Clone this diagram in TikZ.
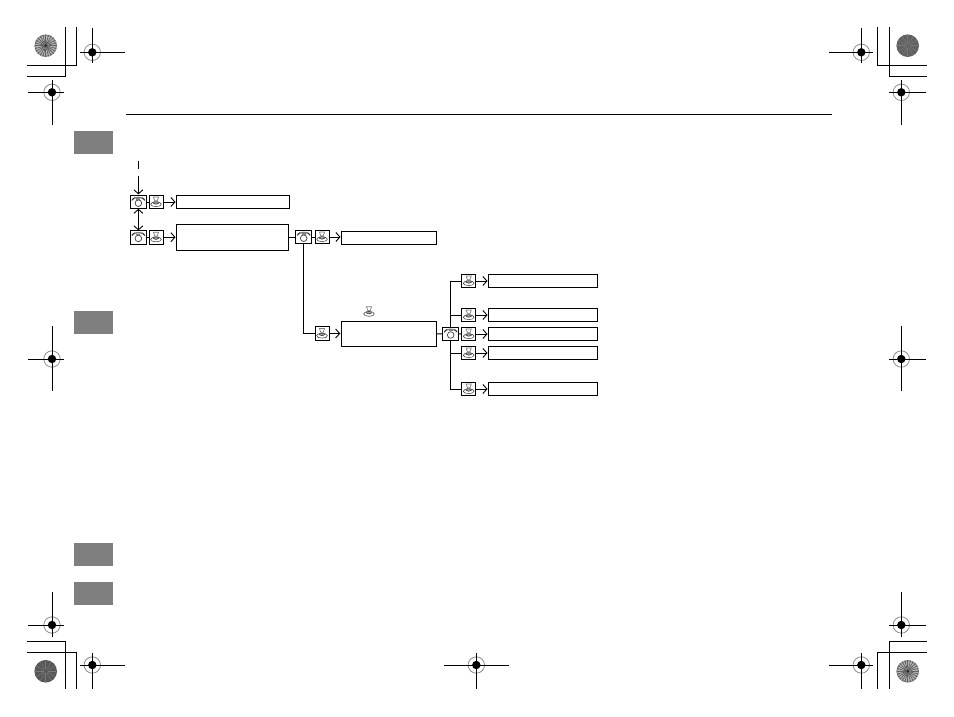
\documentclass[tikz,border=0pt]{standalone}
\usetikzlibrary{arrows.meta, positioning}
\definecolor{ink}{HTML}{000000}
\definecolor{tab}{HTML}{7F7F7F}
\definecolor{ringgray}{HTML}{8C8C8C}
\definecolor{glyph}{HTML}{808080}
\newcommand{\phoneglyph}{%
  \draw[glyph, line width=1.4pt] (-6.4,-2.2) .. controls (-4,-5.4) and (4,-5.4) .. (6.4,-2.2);
  \draw[ink, line width=0.4pt] (-4,-4.4) -- (-6.6,-1.4) (4,-4.4) -- (6.6,-1.4);
  \draw[ink!75, line width=0.7pt] (0,1.2) circle (3.3);
  \fill[glyph] (-2,-3.6) rectangle (2,-2.4);
}
\newcommand{\talkglyph}{%
  \draw[glyph, line width=0.7pt] (-2.6,-5) -- (2.6,-5) -- (1.2,-1.2) -- (-1.2,-1.2) -- cycle;
  \fill[glyph!70] (0,0.4) ellipse (3.2 and 1.6);
  \draw[ink!80, line width=0.5pt] (0,2.2) ellipse (5.4 and 2.4);
  \draw[ink!80, line width=0.6pt] (-3,1) .. controls (-1.5,2.7) and (1.5,2.7) .. (3,1);
}
\tikzset{
  flowbox/.style={draw=ink, line width=1pt, fill=white, inner sep=0pt, outer sep=0pt},
  iconbox/.style={flowbox, minimum width=14pt, minimum height=13.6pt},
  phonebox/.style={iconbox, minimum width=16.4pt, path picture={
    \begin{scope}[shift={(path picture bounding box.center)}]\phoneglyph\end{scope}}},
  talkbox/.style={iconbox, path picture={
    \begin{scope}[shift={(path picture bounding box.center)}]\talkglyph\end{scope}}},
  talkfree/.style={talkbox, draw=none, fill=none},
  sidetab/.style={fill=tab, inner sep=0pt, outer sep=0pt, minimum width=39.5pt, minimum height=23pt},
  arrow/.style={-{Straight Barb[length=4pt, width=9pt]}, draw=ink, line width=0.9pt, shorten >=0.8pt},
  both/.style={{Straight Barb[length=4pt, width=9pt]}-{Straight Barb[length=4pt, width=9pt]}, draw=ink, line width=0.9pt},
  link/.style={draw=ink, line width=0.9pt},
  crop/.style={draw=ink, line width=0.9pt}
}

\begin{document}
\begin{tikzpicture}[x=1pt,y=-1pt]
\useasboundingbox (0,0) rectangle (954,717);

% Page rule and side tabs
\draw[link] (126,114) -- (832,114);
\node[sidetab] (tabA) at (93.5,142.5) {};
\node[sidetab] (tabB) at (93.5,322.5) {};
\node[sidetab] (tabC) at (93.5,554.5) {};
\node[sidetab] (tabD) at (93.5,593) {};

% Crop lines
\draw[crop] (27,65.3) -- (76.3,65.3) -- (76.3,27);
\draw[crop] (27,76.3) -- (65.3,76.3) -- (65.3,27);
\draw[crop] (927,65.3) -- (877.3,65.3) -- (877.3,27);
\draw[crop] (927,76.3) -- (889.3,76.3) -- (889.3,27);
\draw[crop] (27,641.3) -- (65.3,641.3) -- (65.3,689);
\draw[crop] (27,652.3) -- (76.3,652.3) -- (76.3,689);
\draw[crop] (927,641.3) -- (889.3,641.3) -- (889.3,689);
\draw[crop] (927,652.3) -- (877.3,652.3) -- (877.3,689);

% Register marks
\foreach \cx/\cy/\xa/\xb/\ya/\yb in {
  92.3/52.3/80/124.7/28/63, 52/92.3/28/63.7/80/124.7,
  861.3/52.3/829/872.7/28/63, 901.3/92.3/889/926/80/124.7,
  52/359/28/63.7/326/391, 901.3/359/889/926/326/391,
  52/625/28/63.7/592/637, 901.3/625/889/926/592/637,
  92.3/665/80/124.7/653/689, 476.3/665/444/508.7/653/689, 861.3/665/829/872.7/653/689}{
  \draw[ringgray, line width=0.8pt] (\cx,\cy) circle (8.2);
  \fill[ink] (\cx,\cy) circle (4.2);
  \draw[crop] (\xa,\cy) -- (\xb,\cy) (\cx,\ya) -- (\cx,\yb);
}

% Colour discs, fine rays
\foreach \cx/\cy in {45.7/45.7, 907.7/671.3}{
  \fill[black!50] (\cx,\cy) circle (11.3);
  \fill[black!25] (\cx,\cy) circle (9.5);
  \foreach \a in {0,15,...,345}{
    \draw[black!62, line width=0.8pt] (\cx,\cy) ++(\a:3) -- ++(\a:8);
    \draw[white!70!black, line width=0.6pt] (\cx,\cy) ++(\a+7.5:7) -- ++(\a+7.5:4);
  }
  \fill[black!60] (\cx,\cy) circle (3);
  \fill[black!90] (\cx,\cy) circle (1.2);
}
% Colour discs, solid tone
\foreach \cx/\cy/\tone in {907.7/45.7/62, 45.7/671.3/66}{
  \fill[black!\tone] (\cx,\cy) circle (11.3);
  \foreach \a in {0,30,...,330}{
    \draw[black!52, line width=0.5pt] (\cx,\cy) ++(\a:2) -- ++(\a:8.5);
  }
}

% First level
\coordinate (tickA) at (138.4,161);
\coordinate (tickB) at (138.4,169);
\coordinate (entry) at (138.4,176);
\node[phonebox] (phoneA) at (138.4,202) {};
\node[talkbox] (talkA) at (156,202) {};
\node[flowbox, minimum width=113.4pt, minimum height=13.4pt] (boxA) at (233,202) {};
\node[phonebox] (phoneB) at (138.4,237.2) {};
\node[talkbox] (talkB) at (156,237.2) {};
\node[flowbox, minimum width=112.4pt, minimum height=26pt] (boxB) at (232.5,237.3) {};

% Second level
\node[phonebox] (phoneC) at (303.7,237) {};
\node[talkbox] (talkC) at (322,237) {};
\node[flowbox, minimum width=95pt, minimum height=13pt] (boxC) at (388.8,237.8) {};
\node[talkbox] (talkD) at (322,333.5) {};
\node[talkfree] (talkMark) at (369,311.7) {};
\node[flowbox, minimum width=95.3pt, minimum height=25.4pt] (boxD) at (388.7,334) {};

% Third level
\node[phonebox] (phoneE) at (450.7,333.8) {};
\node[talkbox] (talkE) at (468.7,281) {};
\node[talkbox] (talkF) at (468.7,315) {};
\node[talkbox] (talkG) at (468.7,334) {};
\node[talkbox] (talkH) at (468.7,353) {};
\node[talkbox] (talkJ) at (468.7,389) {};
\node[flowbox, minimum width=109.4pt, minimum height=13.4pt] (boxE) at (543,281) {};
\node[flowbox, minimum width=109.4pt, minimum height=13.4pt] (boxF) at (543,315) {};
\node[flowbox, minimum width=109.4pt, minimum height=13.4pt] (boxG) at (543,334) {};
\node[flowbox, minimum width=109.4pt, minimum height=13.4pt] (boxH) at (543,353) {};
\node[flowbox, minimum width=109.4pt, minimum height=13.4pt] (boxJ) at (543,389) {};

% Main flow
\draw[link] (tickA) -- (tickB);
\draw[arrow] (entry) -- (phoneA.north);
\draw[both] (phoneA.south) -- (phoneB.north);
\draw[link] (phoneA) -- (talkA);
\draw[link] (phoneB) -- (talkB);
\draw[arrow] (talkA) -- (boxA);
\draw[arrow] (talkB) -- (talkB -| boxB.west);
\draw[link] (boxB.east |- phoneC) -- (phoneC);
\draw[link] (phoneC) -- (talkC);
\draw[arrow] (talkC) -- (talkC -| boxC.west);
\draw[link] (phoneC.south) |- (talkD.west);
\draw[arrow] (talkD) -- (talkD -| boxD.west);
\draw[link] (boxD) -- (phoneE);
\draw[link] (phoneE.north) |- (talkE.west);
\draw[link] (phoneE.north) |- (talkF.west);
\draw[link] (phoneE) -- (talkG);
\draw[link] (phoneE.south) |- (talkH.west);
\draw[link] (phoneE.south) |- (talkJ.west);
\draw[arrow] (talkE) -- (boxE);
\draw[arrow] (talkF) -- (boxF);
\draw[arrow] (talkG) -- (boxG);
\draw[arrow] (talkH) -- (boxH);
\draw[arrow] (talkJ) -- (boxJ);

\end{tikzpicture}
\end{document}
